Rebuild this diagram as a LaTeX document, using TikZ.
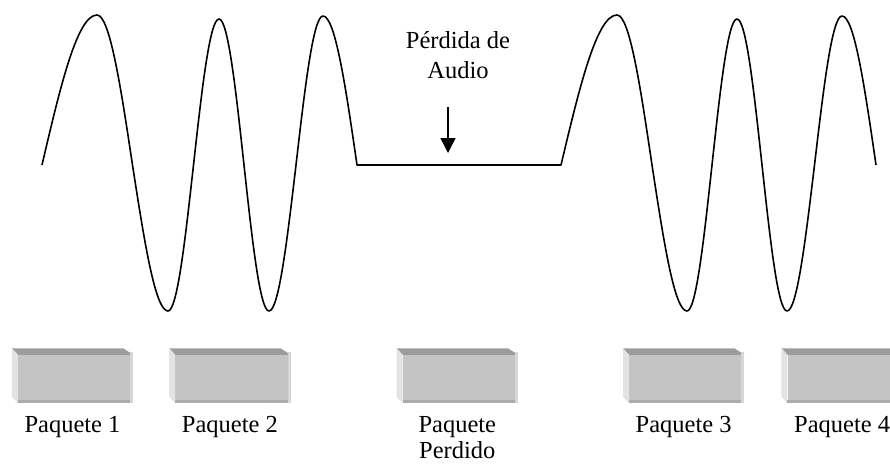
\documentclass[tikz,border=0pt]{standalone}
\usepackage{fontspec}
\setmainfont{Liberation Serif}
\usepackage{tikz}
\usepackage{xcolor}
\usetikzlibrary{positioning,arrows.meta}
\definecolor{pkt-front}{HTML}{C4C4C4}
\definecolor{pkt-top}{HTML}{9C9C9C}
\definecolor{pkt-side}{HTML}{E3E3E3}
\definecolor{pkt-rim}{HTML}{ABABAB}
\definecolor{pkt-edge}{HTML}{D6D6D6}
\tikzset{
    wave-line/.style = {draw=black, line width=1.6pt, line join=round},
    packet-box/.style = {rectangle, fill=pkt-front, minimum width=115pt, minimum height=48pt, inner sep=0pt},
    packet-label/.style = {font=\fontsize{24.5}{26}\selectfont, align=center, inner sep=0pt, anchor=north},
    loss-arrow/.style = {line width=1.5pt, -{Triangle[length=15pt,width=15pt]}},
}

\begin{document}
\begin{tikzpicture}[x=1pt,y=-1pt]
\useasboundingbox (0,0) rectangle (890,464);
% signal with the gap
\draw[wave-line] (42,165) sin (97,15) cos (132.5,165) sin (168,311) cos (193.5,165) sin (219,19)
    cos (244,165) sin (269,311) cos (296,165) sin (323,16) cos (357,165)
    -- (561,165) sin (617,15) cos (652,165) sin (687,311) cos (712,165) sin (737,19)
    cos (762,165) sin (787,311) cos (814.5,165) sin (842,16) cos (876,165);
\node[font=\fontsize{24.5}{30}\selectfont, align=center, inner sep=0pt, anchor=north] (loss) at (458,31) {Pérdida de\\Audio};
\coordinate (drop-top) at (448,107);
\coordinate (drop-tip) at (448,153);
\draw[loss-arrow] (drop-top) -- (drop-tip);
% packets
\node[packet-box] (pkt1) at (75.5,379) {};
\node[packet-box, right=42pt of pkt1] (pkt2) {};
\node[packet-box, right=112pt of pkt2] (lost) {};
\node[packet-box, right=111pt of lost] (pkt3) {};
\node[packet-box, right=43pt of pkt3] (pkt4) {};
\foreach \pk in {pkt1,pkt2,lost,pkt3,pkt4} {
    \fill[pkt-top] ([xshift=-6pt,yshift=6.5pt]\pk.north west) -- ([xshift=-10pt,yshift=6.5pt]\pk.north east)
        -- (\pk.north east) -- (\pk.north west) -- cycle;
    \fill[pkt-side] ([xshift=-6pt,yshift=6.5pt]\pk.north west) -- (\pk.north west)
        -- (\pk.south west) -- ([xshift=-6pt,yshift=6.5pt]\pk.south west) -- cycle;
    \fill[pkt-rim] ([yshift=3pt]\pk.south west) rectangle (\pk.south east);
    \fill[pkt-edge] ([xshift=-3pt,yshift=3pt]\pk.north east) rectangle (\pk.south east);
}
\node[packet-label, below=12.5pt of pkt1, xshift=-3pt] (lbl1) {Paquete 1};
\node[packet-label, below=12.5pt of pkt2, xshift=-3pt] (lbl2) {Paquete 2};
\node[packet-label, below=13.5pt of lost, xshift=-3pt] (lbl-lost) {Paquete\\Perdido};
\node[packet-label, below=12.5pt of pkt3, xshift=-3pt] (lbl3) {Paquete 3};
\node[packet-label, below=12.5pt of pkt4, xshift=-3pt] (lbl4) {Paquete 4};
\end{tikzpicture}
\end{document}
